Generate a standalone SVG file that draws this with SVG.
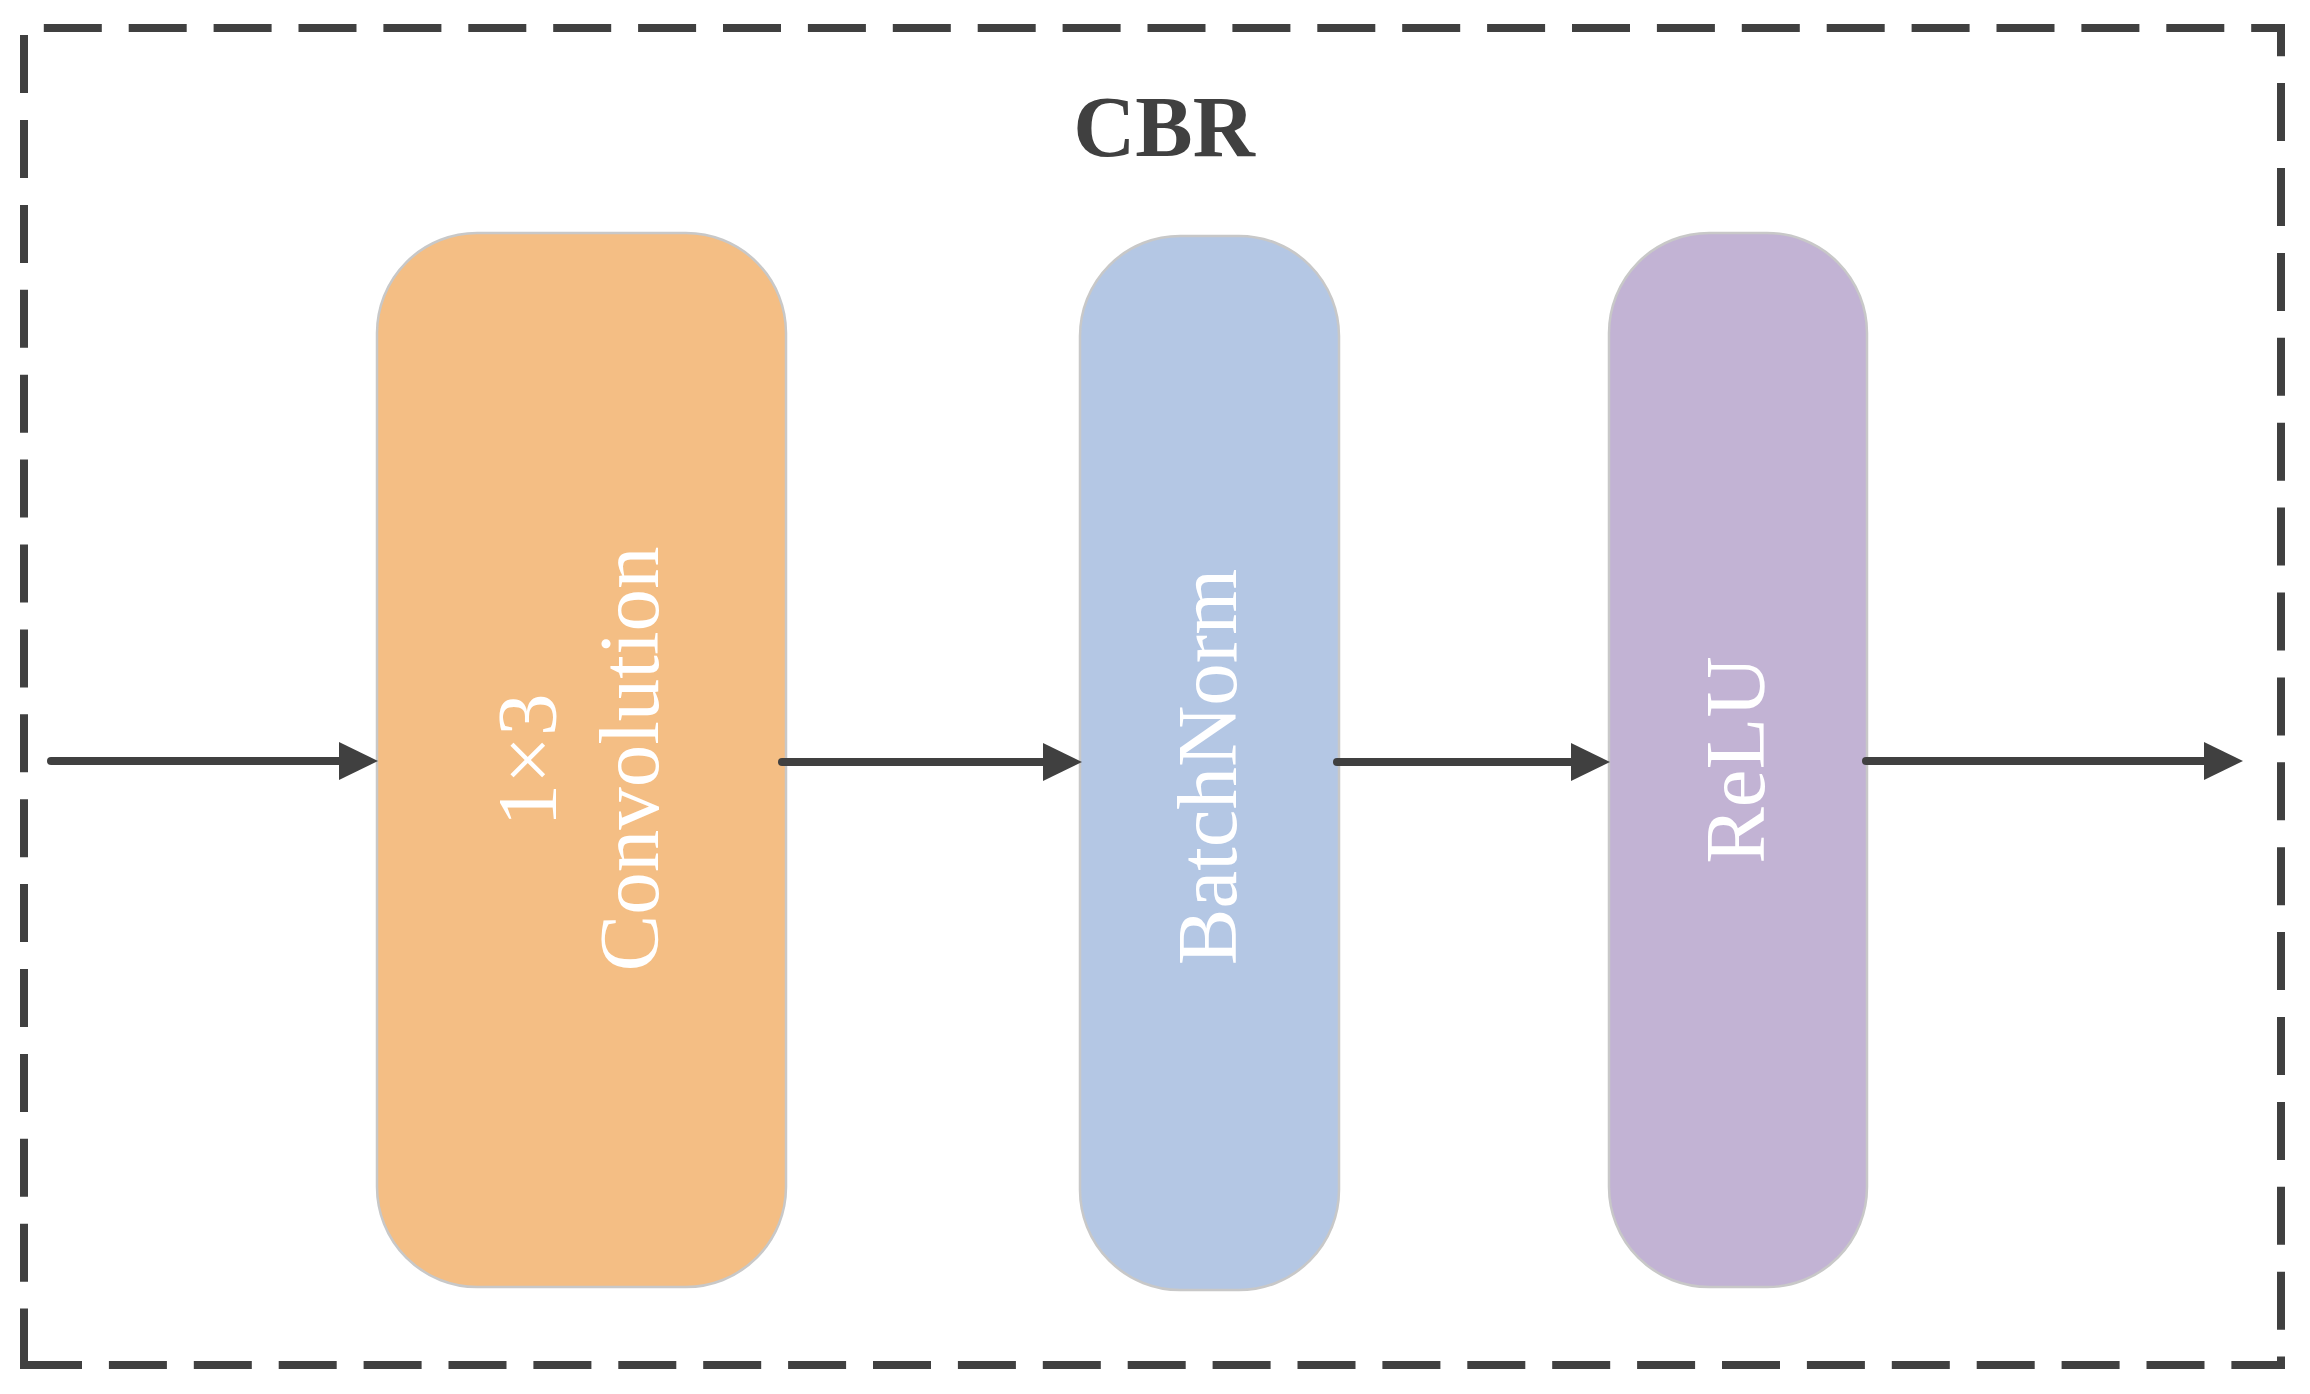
<svg xmlns="http://www.w3.org/2000/svg" width="2310" height="1394" viewBox="0 0 2310 1394">
  <style>
    .frame { fill: none; stroke: #404040; stroke-width: 8; stroke-dasharray: 58 26.9; }
    .node { stroke: #C8C8C8; stroke-width: 2.5; }
    .label { fill: #FFFFFF; font-size: 85px; text-anchor: middle; }
    .title { fill: #404040; font-size: 86px; font-weight: bold; text-anchor: middle; }
    .conn { fill: none; stroke: #404040; stroke-width: 8; stroke-linecap: round; marker-end: url(#arrow); }
  </style>
  <defs>
    <marker id="arrow" markerUnits="userSpaceOnUse" markerWidth="40" markerHeight="40" refX="25" refY="19" orient="auto" viewBox="0 0 40 38">
      <path d="M0,0 L39,19 L0,38 Z" fill="#404040"/>
    </marker>
  </defs>
  <rect width="2310" height="1394" fill="#FFFFFF"/>

  <g id="frame">
    <path class="frame" d="M24,1365 L2281,1365 L2281,28 L24,28 Z"/>
    <text class="title" x="1164" y="156" font-family="Liberation Serif, Tinos, Times New Roman, serif">CBR</text>
  </g>

  <g id="conv">
    <rect class="node" x="377" y="233" width="409" height="1054" rx="100" ry="100" fill="#F4BE84"/>
    <text class="label" font-family="Liberation Serif, Tinos, Times New Roman, serif" transform="translate(556,760) rotate(-90)">1×3</text>
    <text class="label" font-family="Liberation Serif, Tinos, Times New Roman, serif" transform="translate(658,759) rotate(-90)">Convolution</text>
  </g>

  <g id="batchnorm">
    <rect class="node" x="1080" y="236" width="259" height="1054" rx="100" ry="100" fill="#B4C7E4"/>
    <text class="label" font-family="Liberation Serif, Tinos, Times New Roman, serif" transform="translate(1236,767) rotate(-90)">BatchNorm</text>
  </g>

  <g id="relu">
    <rect class="node" x="1609" y="233" width="258" height="1054" rx="100" ry="100" fill="#C2B3D4"/>
    <text class="label" font-family="Liberation Serif, Tinos, Times New Roman, serif" transform="translate(1764,760) rotate(-90)">ReLU</text>
  </g>

  <g id="connectors">
    <line class="conn" x1="51" y1="761" x2="364" y2="761"/>
    <line class="conn" x1="782" y1="762" x2="1068" y2="762"/>
    <line class="conn" x1="1337" y1="762" x2="1596" y2="762"/>
    <line class="conn" x1="1866" y1="761" x2="2229" y2="761"/>
  </g>
</svg>
